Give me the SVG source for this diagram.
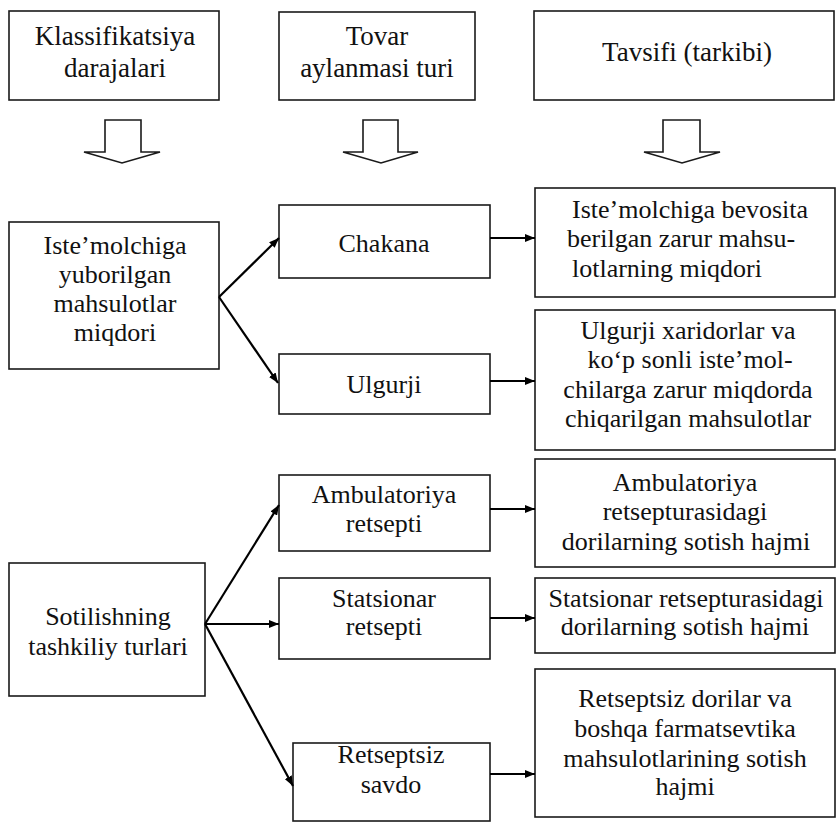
<svg xmlns="http://www.w3.org/2000/svg" width="836" height="823" viewBox="0 0 836 823">
<style>
.box{fill:#fff;stroke:#1a1a1a;stroke-width:1.6}
.t{font-family:"Liberation Serif","Times New Roman",serif;font-size:26px;fill:#111;text-anchor:middle}
.h{font-size:27px}
.l{text-anchor:start}
.c{stroke:#000;stroke-width:2.2;fill:none;marker-end:url(#ah)}
.big{fill:#fff;stroke:#1a1a1a;stroke-width:1.6;stroke-linejoin:miter}
</style>
<defs>
<marker id="ah" viewBox="0 0 10 8" refX="10" refY="4" markerWidth="10" markerHeight="8" markerUnits="userSpaceOnUse" orient="auto">
<path d="M0,0 L10,4 L0,8 Z" fill="#000"/>
</marker>
</defs>
<rect width="836" height="823" fill="#fff"/>

<g id="h1"><rect class="box" x="9" y="11" width="210" height="89"/>
<text class="t h" x="115" y="45">Klassifikatsiya</text><text class="t h" x="115" y="77">darajalari</text></g>
<g id="h2"><rect class="box" x="279" y="12" width="196" height="88"/>
<text class="t h" x="377" y="45">Tovar</text><text class="t h" x="377" y="77">aylanmasi turi</text></g>
<g id="h3"><rect class="box" x="534" y="11" width="300" height="89"/>
<text class="t h" x="687" y="61">Tavsifi (tarkibi)</text></g>

<g id="ha1"><path class="big" d="M105,120 H141 V152 H160 L122,163 L84,152 H105 Z"/></g>
<g id="ha2"><path class="big" d="M363,120 H398 V152 H418 L381,163 L343,152 H363 Z"/></g>
<g id="ha3"><path class="big" d="M663,120 H700 V152 H720 L682,163 L644,152 H663 Z"/></g>

<g id="n_iste"><rect class="box" x="9" y="222" width="210" height="147"/>
<text class="t" x="115" y="254">Iste’molchiga</text><text class="t" x="115" y="283">yuborilgan</text><text class="t" x="115" y="312">mahsulotlar</text><text class="t" x="115" y="341">miqdori</text></g>

<g id="n_chakana"><rect class="box" x="279" y="205" width="211" height="73"/>
<text class="t" x="384" y="252">Chakana</text></g>
<g id="n_ulgurji"><rect class="box" x="279" y="354" width="211" height="60"/>
<text class="t" x="384" y="393">Ulgurji</text></g>

<g id="d_chakana"><rect class="box" x="535" y="188" width="300" height="109"/>
<text class="t l" x="572" y="218">Iste’molchiga bevosita</text><text class="t l" x="567" y="247">berilgan zarur mahsu-</text><text class="t l" x="572" y="277">lotlarning miqdori</text></g>
<g id="d_ulgurji"><rect class="box" x="535" y="310" width="300" height="140"/>
<text class="t" x="688" y="339">Ulgurji xaridorlar va</text><text class="t" x="690" y="368">ko‘p sonli iste’mol-</text><text class="t" x="688" y="398">chilarga zarur miqdorda</text><text class="t" x="688" y="427">chiqarilgan mahsulotlar</text></g>

<g id="n_sotil"><rect class="box" x="9" y="563" width="196" height="133"/>
<text class="t" x="108" y="625">Sotilishning</text><text class="t" x="108" y="655">tashkiliy turlari</text></g>

<g id="n_amb"><rect class="box" x="279" y="475" width="211" height="76"/>
<text class="t" x="384" y="503">Ambulatoriya</text><text class="t" x="384" y="532">retsepti</text></g>
<g id="n_stat"><rect class="box" x="279" y="578" width="211" height="81"/>
<text class="t" x="384" y="607">Statsionar</text><text class="t" x="384" y="635">retsepti</text></g>
<g id="n_rets"><rect class="box" x="293" y="743" width="197" height="78"/>
<text class="t" x="391" y="763">Retseptsiz</text><text class="t" x="391" y="793">savdo</text></g>

<g id="d_amb"><rect class="box" x="535" y="459" width="300" height="108"/>
<text class="t" x="685" y="491">Ambulatoriya</text><text class="t" x="685" y="520">retsepturasidagi</text><text class="t" x="686" y="550">dorilarning sotish hajmi</text></g>
<g id="d_stat"><rect class="box" x="535" y="578" width="300" height="75"/>
<text class="t" x="686" y="607">Statsionar retsepturasidagi</text><text class="t" x="685" y="635">dorilarning sotish hajmi</text></g>
<g id="d_rets"><rect class="box" x="535" y="669" width="300" height="148"/>
<text class="t" x="685" y="707">Retseptsiz dorilar va</text><text class="t" x="685" y="737">boshqa farmatsevtika</text><text class="t" x="685" y="767">mahsulotlarining sotish</text><text class="t" x="685" y="795">hajmi</text></g>

<g id="connectors">
<line class="c" x1="219" y1="297" x2="279" y2="238"/>
<line class="c" x1="219" y1="297" x2="278" y2="383"/>
<line class="c" x1="490" y1="238" x2="535" y2="238"/>
<line class="c" x1="490" y1="381" x2="535" y2="381"/>
<line class="c" x1="205" y1="624" x2="279" y2="505"/>
<line class="c" x1="205" y1="624" x2="279" y2="624"/>
<line class="c" x1="205" y1="624" x2="293" y2="786"/>
<line class="c" x1="490" y1="509" x2="535" y2="509"/>
<line class="c" x1="490" y1="618" x2="535" y2="618"/>
<line class="c" x1="490" y1="774" x2="535" y2="774"/>
</g>
</svg>
